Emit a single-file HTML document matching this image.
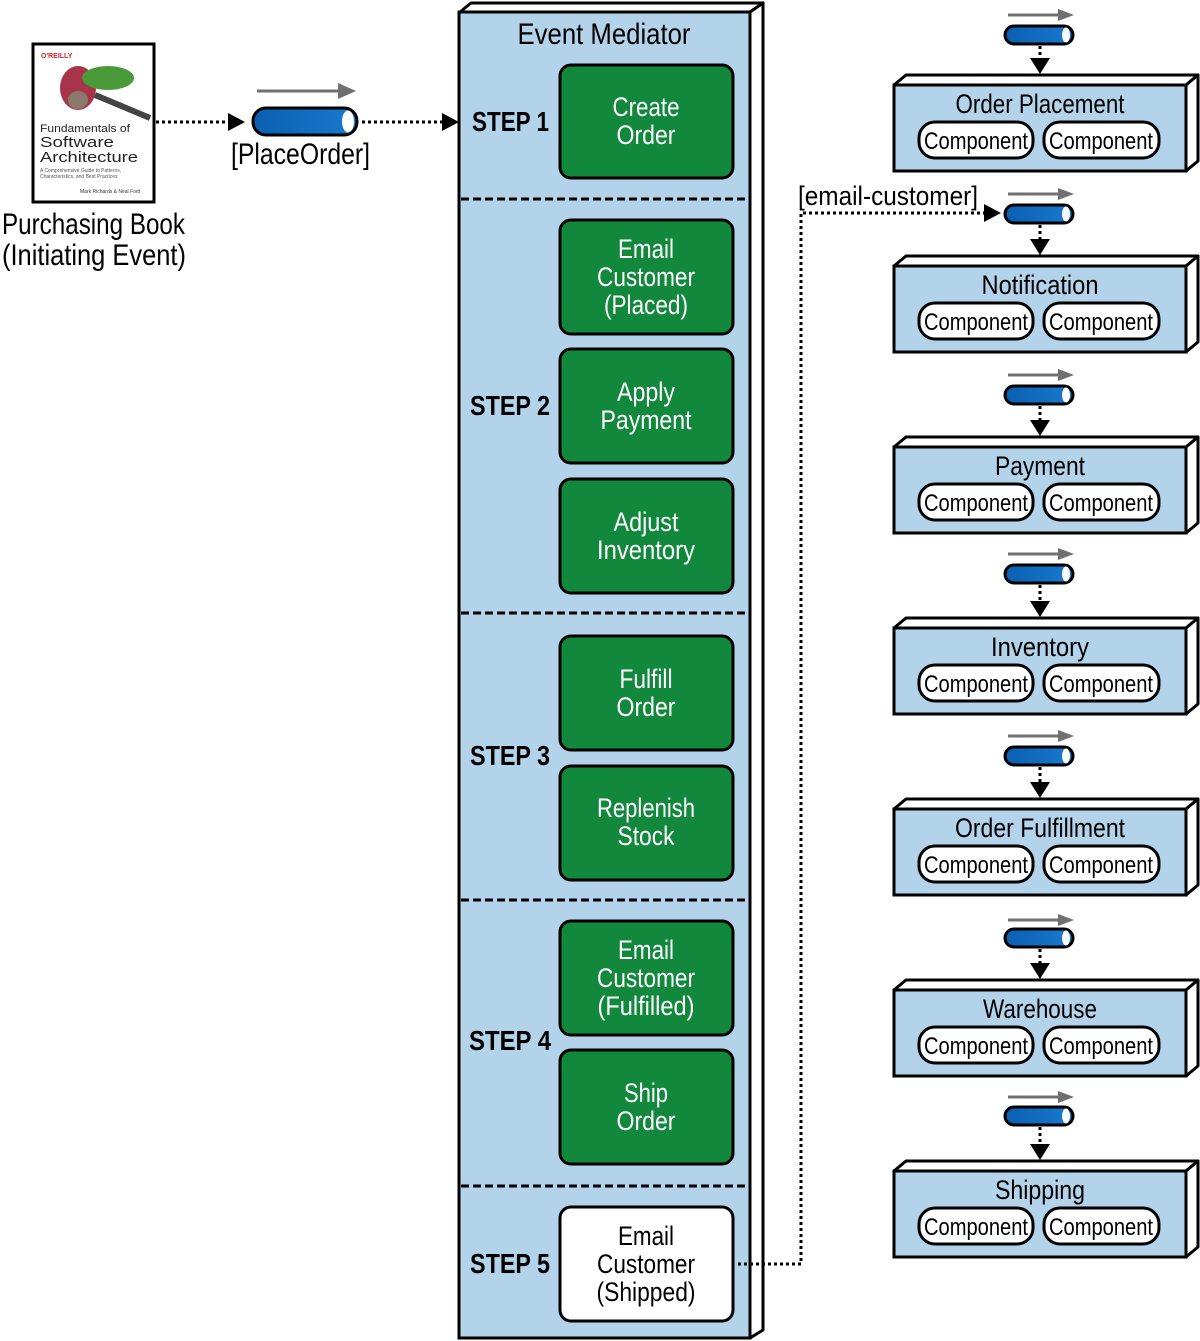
<!DOCTYPE html>
<html><head><meta charset="utf-8"><style>html,body{margin:0;padding:0;background:#fff}svg{display:block}text{font-family:"Liberation Sans Narrow","Liberation Sans",sans-serif}</style></head>
<body>
<svg width="1200" height="1341" viewBox="0 0 1200 1341" xmlns="http://www.w3.org/2000/svg">
<defs>
<linearGradient id="q" x1="0" y1="0" x2="1" y2="0"><stop offset="0" stop-color="#0a5fb0"/><stop offset="1" stop-color="#1a7ad0"/></linearGradient>
</defs>
<!-- Book -->
<rect x="33" y="44" width="121" height="158" fill="#fff" stroke="#000" stroke-width="3"/>
<text x="41" y="58" font-size="7" fill="#d2232a" font-weight="bold">O'REILLY</text>
<ellipse cx="78" cy="88" rx="18" ry="22" fill="#a8344a"/>
<ellipse cx="108" cy="78" rx="26" ry="12" fill="#4a9a3a"/>
<path d="M95 95 L150 118" stroke="#444" stroke-width="6"/>
<ellipse cx="78" cy="100" rx="10" ry="9" fill="#8a7a6a"/>
<text x="40" y="132" font-size="11" fill="#222" textLength="90" lengthAdjust="spacingAndGlyphs">Fundamentals of</text>
<text x="40" y="147" font-size="15" fill="#222" textLength="74" lengthAdjust="spacingAndGlyphs">Software</text>
<text x="40" y="162" font-size="15" fill="#222" textLength="98" lengthAdjust="spacingAndGlyphs">Architecture</text>
<text x="40" y="172" font-size="5" fill="#555">A Comprehensive Guide to Patterns,</text>
<text x="40" y="178" font-size="5" fill="#555">Characteristics, and Best Practices</text>
<text x="80" y="193" font-size="5" fill="#333">Mark Richards &amp; Neal Ford</text>
<text x="2" y="234" font-size="30" textLength="183" lengthAdjust="spacingAndGlyphs">Purchasing Book</text>
<text x="2" y="265" font-size="30" textLength="184" lengthAdjust="spacingAndGlyphs">(Initiating Event)</text>
<!-- left connectors -->
<line x1="156" y1="122" x2="228" y2="122" stroke="#000" stroke-width="3" stroke-dasharray="3 3"/>
<polygon points="228,113 245,122 228,131" fill="#000"/>
<line x1="257" y1="91" x2="340" y2="91" stroke="#707070" stroke-width="3"/>
<polygon points="338,83 356,91 338,99" fill="#707070"/>
<rect x="253" y="108" width="104" height="27" rx="13" fill="url(#q)" stroke="#000" stroke-width="3"/>
<ellipse cx="348" cy="121.5" rx="6" ry="11" fill="#fff"/>
<text x="231" y="164" font-size="30" textLength="139" lengthAdjust="spacingAndGlyphs">[PlaceOrder]</text>
<line x1="362" y1="122" x2="443" y2="122" stroke="#000" stroke-width="3" stroke-dasharray="3 3"/>
<polygon points="442,113 459,122 442,131" fill="#000"/>
<!-- Mediator -->
<polygon points="460,12 471,3 763,3 750,12" fill="#fff" stroke="#000" stroke-width="3" stroke-linejoin="round"/>
<polygon points="750,12 763,3 763,1330 750,1338" fill="#fff" stroke="#000" stroke-width="3" stroke-linejoin="round"/>
<rect x="459" y="12" width="291" height="1326" fill="#b3d3ea" stroke="#000" stroke-width="3"/>
<text x="604" y="44" font-size="30" text-anchor="middle" textLength="173" lengthAdjust="spacingAndGlyphs">Event Mediator</text>
<g stroke="#000" stroke-width="3" stroke-dasharray="8 4">
<line x1="461" y1="199" x2="749" y2="199"/><line x1="461" y1="613" x2="749" y2="613"/>
<line x1="461" y1="900" x2="749" y2="900"/><line x1="461" y1="1186" x2="749" y2="1186"/>
</g>
<g font-weight="bold" font-size="28">
<text x="472" y="131" textLength="77" lengthAdjust="spacingAndGlyphs">STEP 1</text>
<text x="470" y="415" textLength="80" lengthAdjust="spacingAndGlyphs">STEP 2</text>
<text x="470" y="765" textLength="80" lengthAdjust="spacingAndGlyphs">STEP 3</text>
<text x="469" y="1050" textLength="82" lengthAdjust="spacingAndGlyphs">STEP 4</text>
<text x="470" y="1273" textLength="80" lengthAdjust="spacingAndGlyphs">STEP 5</text>
</g>
<g fill="#12883d" stroke="#000" stroke-width="3">
<rect x="560" y="65" width="173" height="113" rx="11"/>
<rect x="560" y="220" width="173" height="114" rx="11"/>
<rect x="560" y="349" width="173" height="114" rx="11"/>
<rect x="560" y="479" width="173" height="114" rx="11"/>
<rect x="560" y="636" width="173" height="114" rx="11"/>
<rect x="560" y="766" width="173" height="114" rx="11"/>
<rect x="560" y="921" width="173" height="114" rx="11"/>
<rect x="560" y="1050" width="173" height="114" rx="11"/>
</g>
<rect x="560" y="1207" width="173" height="114" rx="11" fill="#fff" stroke="#000" stroke-width="3"/>
<g font-size="27" text-anchor="middle" fill="#fff" lengthAdjust="spacingAndGlyphs">
<text x="646" y="116" textLength="67" lengthAdjust="spacingAndGlyphs">Create</text>
<text x="646" y="144" textLength="59" lengthAdjust="spacingAndGlyphs">Order</text>
<text x="646" y="258" textLength="56" lengthAdjust="spacingAndGlyphs">Email</text>
<text x="646" y="286" textLength="98" lengthAdjust="spacingAndGlyphs">Customer</text>
<text x="646" y="314" textLength="84" lengthAdjust="spacingAndGlyphs">(Placed)</text>
<text x="646" y="401" textLength="58" lengthAdjust="spacingAndGlyphs">Apply</text>
<text x="646" y="429" textLength="91" lengthAdjust="spacingAndGlyphs">Payment</text>
<text x="646" y="531" textLength="65" lengthAdjust="spacingAndGlyphs">Adjust</text>
<text x="646" y="559" textLength="98" lengthAdjust="spacingAndGlyphs">Inventory</text>
<text x="646" y="688" textLength="53" lengthAdjust="spacingAndGlyphs">Fulfill</text>
<text x="646" y="716" textLength="59" lengthAdjust="spacingAndGlyphs">Order</text>
<text x="646" y="817" textLength="98" lengthAdjust="spacingAndGlyphs">Replenish</text>
<text x="646" y="845" textLength="57" lengthAdjust="spacingAndGlyphs">Stock</text>
<text x="646" y="959" textLength="56" lengthAdjust="spacingAndGlyphs">Email</text>
<text x="646" y="987" textLength="98" lengthAdjust="spacingAndGlyphs">Customer</text>
<text x="646" y="1015" textLength="97" lengthAdjust="spacingAndGlyphs">(Fulfilled)</text>
<text x="646" y="1102" textLength="44" lengthAdjust="spacingAndGlyphs">Ship</text>
<text x="646" y="1130" textLength="59" lengthAdjust="spacingAndGlyphs">Order</text>
<g fill="#000">
<text x="646" y="1245" textLength="56" lengthAdjust="spacingAndGlyphs">Email</text>
<text x="646" y="1273" textLength="98" lengthAdjust="spacingAndGlyphs">Customer</text>
<text x="646" y="1301" textLength="99" lengthAdjust="spacingAndGlyphs">(Shipped)</text>
</g>
</g>
<!-- email-customer connector -->
<polyline points="738,1264 801,1264 801,213 985,213" fill="none" stroke="#000" stroke-width="3" stroke-dasharray="3 3"/>
<polygon points="984,204 1001,213 984,222" fill="#000"/>
<text x="798" y="205" font-size="27" textLength="180" lengthAdjust="spacingAndGlyphs">[email-customer]</text>
<!-- services -->
<g id="svc">
</g>
<g>
<!-- repeated services generated manually -->
<g transform="translate(0,0)">
<line x1="1008" y1="15" x2="1060" y2="15" stroke="#707070" stroke-width="3"/><polygon points="1058,9 1074,15 1058,21" fill="#707070"/>
<rect x="1005" y="26" width="68" height="18" rx="9" fill="url(#q)" stroke="#000" stroke-width="3"/><ellipse cx="1066" cy="35" rx="4" ry="7.5" fill="#fff"/>
<line x1="1040" y1="46" x2="1040" y2="58" stroke="#000" stroke-width="3" stroke-dasharray="3 3"/><polygon points="1030,58 1050,58 1040,74" fill="#000"/>
<polygon points="894,85 906,75 1198,75 1186,85" fill="#fff" stroke="#000" stroke-width="3" stroke-linejoin="round"/>
<polygon points="1186,85 1198,75 1198,161 1186,171" fill="#fff" stroke="#000" stroke-width="3" stroke-linejoin="round"/>
<rect x="894" y="85" width="292" height="86" fill="#b3d3ea" stroke="#000" stroke-width="3"/>
<text x="1040" y="113" font-size="27" text-anchor="middle" textLength="169" lengthAdjust="spacingAndGlyphs">Order Placement</text>
<rect x="919" y="122" width="114" height="36" rx="16" fill="#fff" stroke="#000" stroke-width="3"/><rect x="1044" y="122" width="115" height="36" rx="16" fill="#fff" stroke="#000" stroke-width="3"/>
<text x="976" y="149" font-size="24" text-anchor="middle" textLength="104" lengthAdjust="spacingAndGlyphs">Component</text><text x="1101" y="149" font-size="24" text-anchor="middle" textLength="104" lengthAdjust="spacingAndGlyphs">Component</text>
</g>
<g transform="translate(0,181)">
<line x1="1008" y1="13" x2="1060" y2="13" stroke="#707070" stroke-width="3"/><polygon points="1058,7 1074,13 1058,19" fill="#707070"/>
<rect x="1005" y="24" width="68" height="18" rx="9" fill="url(#q)" stroke="#000" stroke-width="3"/><ellipse cx="1066" cy="33" rx="4" ry="7.5" fill="#fff"/>
<line x1="1040" y1="44" x2="1040" y2="58" stroke="#000" stroke-width="3" stroke-dasharray="3 3"/><polygon points="1030,58 1050,58 1040,74" fill="#000"/>
<polygon points="894,85 906,75 1198,75 1186,85" fill="#fff" stroke="#000" stroke-width="3" stroke-linejoin="round"/>
<polygon points="1186,85 1198,75 1198,161 1186,171" fill="#fff" stroke="#000" stroke-width="3" stroke-linejoin="round"/>
<rect x="894" y="85" width="292" height="86" fill="#b3d3ea" stroke="#000" stroke-width="3"/>
<text x="1040" y="113" font-size="27" text-anchor="middle" textLength="117" lengthAdjust="spacingAndGlyphs">Notification</text>
<rect x="919" y="122" width="114" height="36" rx="16" fill="#fff" stroke="#000" stroke-width="3"/><rect x="1044" y="122" width="115" height="36" rx="16" fill="#fff" stroke="#000" stroke-width="3"/>
<text x="976" y="149" font-size="24" text-anchor="middle" textLength="104" lengthAdjust="spacingAndGlyphs">Component</text><text x="1101" y="149" font-size="24" text-anchor="middle" textLength="104" lengthAdjust="spacingAndGlyphs">Component</text>
</g>
<g transform="translate(0,362)">
<line x1="1008" y1="13" x2="1060" y2="13" stroke="#707070" stroke-width="3"/><polygon points="1058,7 1074,13 1058,19" fill="#707070"/>
<rect x="1005" y="24" width="68" height="18" rx="9" fill="url(#q)" stroke="#000" stroke-width="3"/><ellipse cx="1066" cy="33" rx="4" ry="7.5" fill="#fff"/>
<line x1="1040" y1="44" x2="1040" y2="58" stroke="#000" stroke-width="3" stroke-dasharray="3 3"/><polygon points="1030,58 1050,58 1040,74" fill="#000"/>
<polygon points="894,85 906,75 1198,75 1186,85" fill="#fff" stroke="#000" stroke-width="3" stroke-linejoin="round"/>
<polygon points="1186,85 1198,75 1198,161 1186,171" fill="#fff" stroke="#000" stroke-width="3" stroke-linejoin="round"/>
<rect x="894" y="85" width="292" height="86" fill="#b3d3ea" stroke="#000" stroke-width="3"/>
<text x="1040" y="113" font-size="27" text-anchor="middle" textLength="90" lengthAdjust="spacingAndGlyphs">Payment</text>
<rect x="919" y="122" width="114" height="36" rx="16" fill="#fff" stroke="#000" stroke-width="3"/><rect x="1044" y="122" width="115" height="36" rx="16" fill="#fff" stroke="#000" stroke-width="3"/>
<text x="976" y="149" font-size="24" text-anchor="middle" textLength="104" lengthAdjust="spacingAndGlyphs">Component</text><text x="1101" y="149" font-size="24" text-anchor="middle" textLength="104" lengthAdjust="spacingAndGlyphs">Component</text>
</g>
<g transform="translate(0,543)">
<line x1="1008" y1="11" x2="1060" y2="11" stroke="#707070" stroke-width="3"/><polygon points="1058,5 1074,11 1058,17" fill="#707070"/>
<rect x="1005" y="22" width="68" height="18" rx="9" fill="url(#q)" stroke="#000" stroke-width="3"/><ellipse cx="1066" cy="31" rx="4" ry="7.5" fill="#fff"/>
<line x1="1040" y1="42" x2="1040" y2="58" stroke="#000" stroke-width="3" stroke-dasharray="3 3"/><polygon points="1030,58 1050,58 1040,74" fill="#000"/>
<polygon points="894,85 906,75 1198,75 1186,85" fill="#fff" stroke="#000" stroke-width="3" stroke-linejoin="round"/>
<polygon points="1186,85 1198,75 1198,161 1186,171" fill="#fff" stroke="#000" stroke-width="3" stroke-linejoin="round"/>
<rect x="894" y="85" width="292" height="86" fill="#b3d3ea" stroke="#000" stroke-width="3"/>
<text x="1040" y="113" font-size="27" text-anchor="middle" textLength="98" lengthAdjust="spacingAndGlyphs">Inventory</text>
<rect x="919" y="122" width="114" height="36" rx="16" fill="#fff" stroke="#000" stroke-width="3"/><rect x="1044" y="122" width="115" height="36" rx="16" fill="#fff" stroke="#000" stroke-width="3"/>
<text x="976" y="149" font-size="24" text-anchor="middle" textLength="104" lengthAdjust="spacingAndGlyphs">Component</text><text x="1101" y="149" font-size="24" text-anchor="middle" textLength="104" lengthAdjust="spacingAndGlyphs">Component</text>
</g>
<g transform="translate(0,724)">
<line x1="1008" y1="12" x2="1060" y2="12" stroke="#707070" stroke-width="3"/><polygon points="1058,6 1074,12 1058,18" fill="#707070"/>
<rect x="1005" y="23" width="68" height="18" rx="9" fill="url(#q)" stroke="#000" stroke-width="3"/><ellipse cx="1066" cy="32" rx="4" ry="7.5" fill="#fff"/>
<line x1="1040" y1="43" x2="1040" y2="58" stroke="#000" stroke-width="3" stroke-dasharray="3 3"/><polygon points="1030,58 1050,58 1040,74" fill="#000"/>
<polygon points="894,85 906,75 1198,75 1186,85" fill="#fff" stroke="#000" stroke-width="3" stroke-linejoin="round"/>
<polygon points="1186,85 1198,75 1198,161 1186,171" fill="#fff" stroke="#000" stroke-width="3" stroke-linejoin="round"/>
<rect x="894" y="85" width="292" height="86" fill="#b3d3ea" stroke="#000" stroke-width="3"/>
<text x="1040" y="113" font-size="27" text-anchor="middle" textLength="170" lengthAdjust="spacingAndGlyphs">Order Fulfillment</text>
<rect x="919" y="122" width="114" height="36" rx="16" fill="#fff" stroke="#000" stroke-width="3"/><rect x="1044" y="122" width="115" height="36" rx="16" fill="#fff" stroke="#000" stroke-width="3"/>
<text x="976" y="149" font-size="24" text-anchor="middle" textLength="104" lengthAdjust="spacingAndGlyphs">Component</text><text x="1101" y="149" font-size="24" text-anchor="middle" textLength="104" lengthAdjust="spacingAndGlyphs">Component</text>
</g>
<g transform="translate(0,905)">
<line x1="1008" y1="15" x2="1060" y2="15" stroke="#707070" stroke-width="3"/><polygon points="1058,9 1074,15 1058,21" fill="#707070"/>
<rect x="1005" y="24" width="68" height="18" rx="9" fill="url(#q)" stroke="#000" stroke-width="3"/><ellipse cx="1066" cy="33" rx="4" ry="7.5" fill="#fff"/>
<line x1="1040" y1="44" x2="1040" y2="58" stroke="#000" stroke-width="3" stroke-dasharray="3 3"/><polygon points="1030,58 1050,58 1040,74" fill="#000"/>
<polygon points="894,85 906,75 1198,75 1186,85" fill="#fff" stroke="#000" stroke-width="3" stroke-linejoin="round"/>
<polygon points="1186,85 1198,75 1198,161 1186,171" fill="#fff" stroke="#000" stroke-width="3" stroke-linejoin="round"/>
<rect x="894" y="85" width="292" height="86" fill="#b3d3ea" stroke="#000" stroke-width="3"/>
<text x="1040" y="113" font-size="27" text-anchor="middle" textLength="114" lengthAdjust="spacingAndGlyphs">Warehouse</text>
<rect x="919" y="122" width="114" height="36" rx="16" fill="#fff" stroke="#000" stroke-width="3"/><rect x="1044" y="122" width="115" height="36" rx="16" fill="#fff" stroke="#000" stroke-width="3"/>
<text x="976" y="149" font-size="24" text-anchor="middle" textLength="104" lengthAdjust="spacingAndGlyphs">Component</text><text x="1101" y="149" font-size="24" text-anchor="middle" textLength="104" lengthAdjust="spacingAndGlyphs">Component</text>
</g>
<g transform="translate(0,1086)">
<line x1="1008" y1="11" x2="1060" y2="11" stroke="#707070" stroke-width="3"/><polygon points="1058,5 1074,11 1058,17" fill="#707070"/>
<rect x="1005" y="21" width="68" height="18" rx="9" fill="url(#q)" stroke="#000" stroke-width="3"/><ellipse cx="1066" cy="30" rx="4" ry="7.5" fill="#fff"/>
<line x1="1040" y1="41" x2="1040" y2="58" stroke="#000" stroke-width="3" stroke-dasharray="3 3"/><polygon points="1030,58 1050,58 1040,74" fill="#000"/>
<polygon points="894,85 906,75 1198,75 1186,85" fill="#fff" stroke="#000" stroke-width="3" stroke-linejoin="round"/>
<polygon points="1186,85 1198,75 1198,161 1186,171" fill="#fff" stroke="#000" stroke-width="3" stroke-linejoin="round"/>
<rect x="894" y="85" width="292" height="86" fill="#b3d3ea" stroke="#000" stroke-width="3"/>
<text x="1040" y="113" font-size="27" text-anchor="middle" textLength="90" lengthAdjust="spacingAndGlyphs">Shipping</text>
<rect x="919" y="122" width="114" height="36" rx="16" fill="#fff" stroke="#000" stroke-width="3"/><rect x="1044" y="122" width="115" height="36" rx="16" fill="#fff" stroke="#000" stroke-width="3"/>
<text x="976" y="149" font-size="24" text-anchor="middle" textLength="104" lengthAdjust="spacingAndGlyphs">Component</text><text x="1101" y="149" font-size="24" text-anchor="middle" textLength="104" lengthAdjust="spacingAndGlyphs">Component</text>
</g>
</g>
</svg>
</body></html>
